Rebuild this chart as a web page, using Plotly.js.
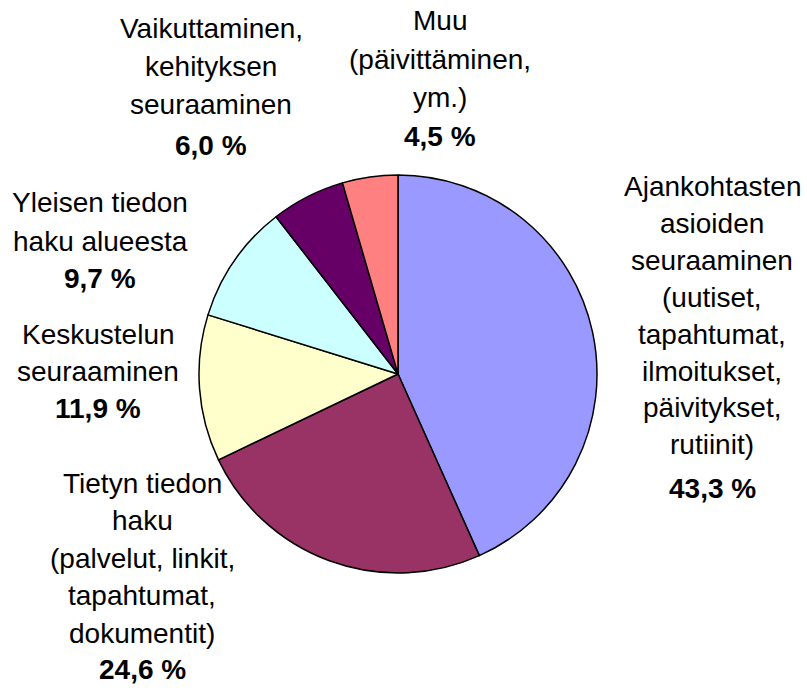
<!DOCTYPE html>
<html>
<head>
<meta charset="utf-8">
<script src="https://cdn.plot.ly/plotly-3.0.1.min.js"></script>
<style>html,body{margin:0;padding:0;background:#fff;}#chart{width:807px;height:688px;}</style>
</head>
<body>
<div id="chart"></div>
<script>
var categories = [
  "Ajankohtasten<br>asioiden<br>seuraaminen<br>(uutiset,<br>tapahtumat,<br>ilmoitukset,<br>päivitykset,<br>rutiinit)",
  "Tietyn tiedon<br>haku<br>(palvelut, linkit,<br>tapahtumat,<br>dokumentit)",
  "Keskustelun<br>seuraaminen",
  "Yleisen tiedon<br>haku alueesta",
  "Vaikuttaminen,<br>kehityksen<br>seuraaminen",
  "Muu<br>(päivittäminen,<br>ym.)"
];
var valueLabels = ["43,3 %", "24,6 %", "11,9 %", "9,7 %", "6,0 %", "4,5 %"];
var values = [43.3, 24.6, 11.9, 9.7, 6.0, 4.5];
var colors = ["#9999FF", "#993366", "#FFFFCC", "#CCFFFF", "#660066", "#FF8080"];

var W = 807, H = 688;
// label layout in pixels: [centre x, first line y, line pitch, value line y]
var labelLayout = [
  [712, 187, 36.8, 488],
  [142, 483, 37.5, 669],
  [98, 334, 37.5, 409],
  [100, 203, 38.0, 279],
  [211, 29, 37.5, 145],
  [440, 21, 38.0, 136]
];

var FONT = "Liberation Sans, Arial, sans-serif";
var FS = 28;
var annotations = [];
categories.forEach(function (c, i) {
  var L = labelLayout[i];
  var lines = c.split("<br>");
  lines.forEach(function (t, k) {
    annotations.push({
      text: t, xref: "paper", yref: "paper",
      x: L[0] / W, y: 1 - (L[1] + k * L[2]) / H,
      xanchor: "center", yanchor: "middle", align: "center",
      showarrow: false,
      font: {family: FONT, size: FS, color: "#000"}
    });
  });
  annotations.push({
    text: "<b>" + valueLabels[i] + "</b>", xref: "paper", yref: "paper",
    x: L[0] / W, y: 1 - L[3] / H,
    xanchor: "center", yanchor: "middle", align: "center",
    showarrow: false,
    font: {family: FONT, size: FS, color: "#000"}
  });
});

var cx = 398, cy = 374, r = 199;
var trace = {
  type: "pie",
  values: values,
  labels: valueLabels,
  sort: false,
  direction: "clockwise",
  rotation: 0,
  textinfo: "none",
  hoverinfo: "label",
  marker: {colors: colors, line: {color: "#000", width: 1.5}},
  domain: {x: [(cx - r) / W, (cx + r) / W], y: [1 - (cy + r) / H, 1 - (cy - r) / H]},
  showlegend: false
};

Plotly.newPlot("chart", [trace], {
  width: W, height: H,
  margin: {l: 0, r: 0, t: 0, b: 0},
  paper_bgcolor: "#fff",
  showlegend: false,
  annotations: annotations
}, {displayModeBar: false, staticPlot: true});
</script>
</body>
</html>
